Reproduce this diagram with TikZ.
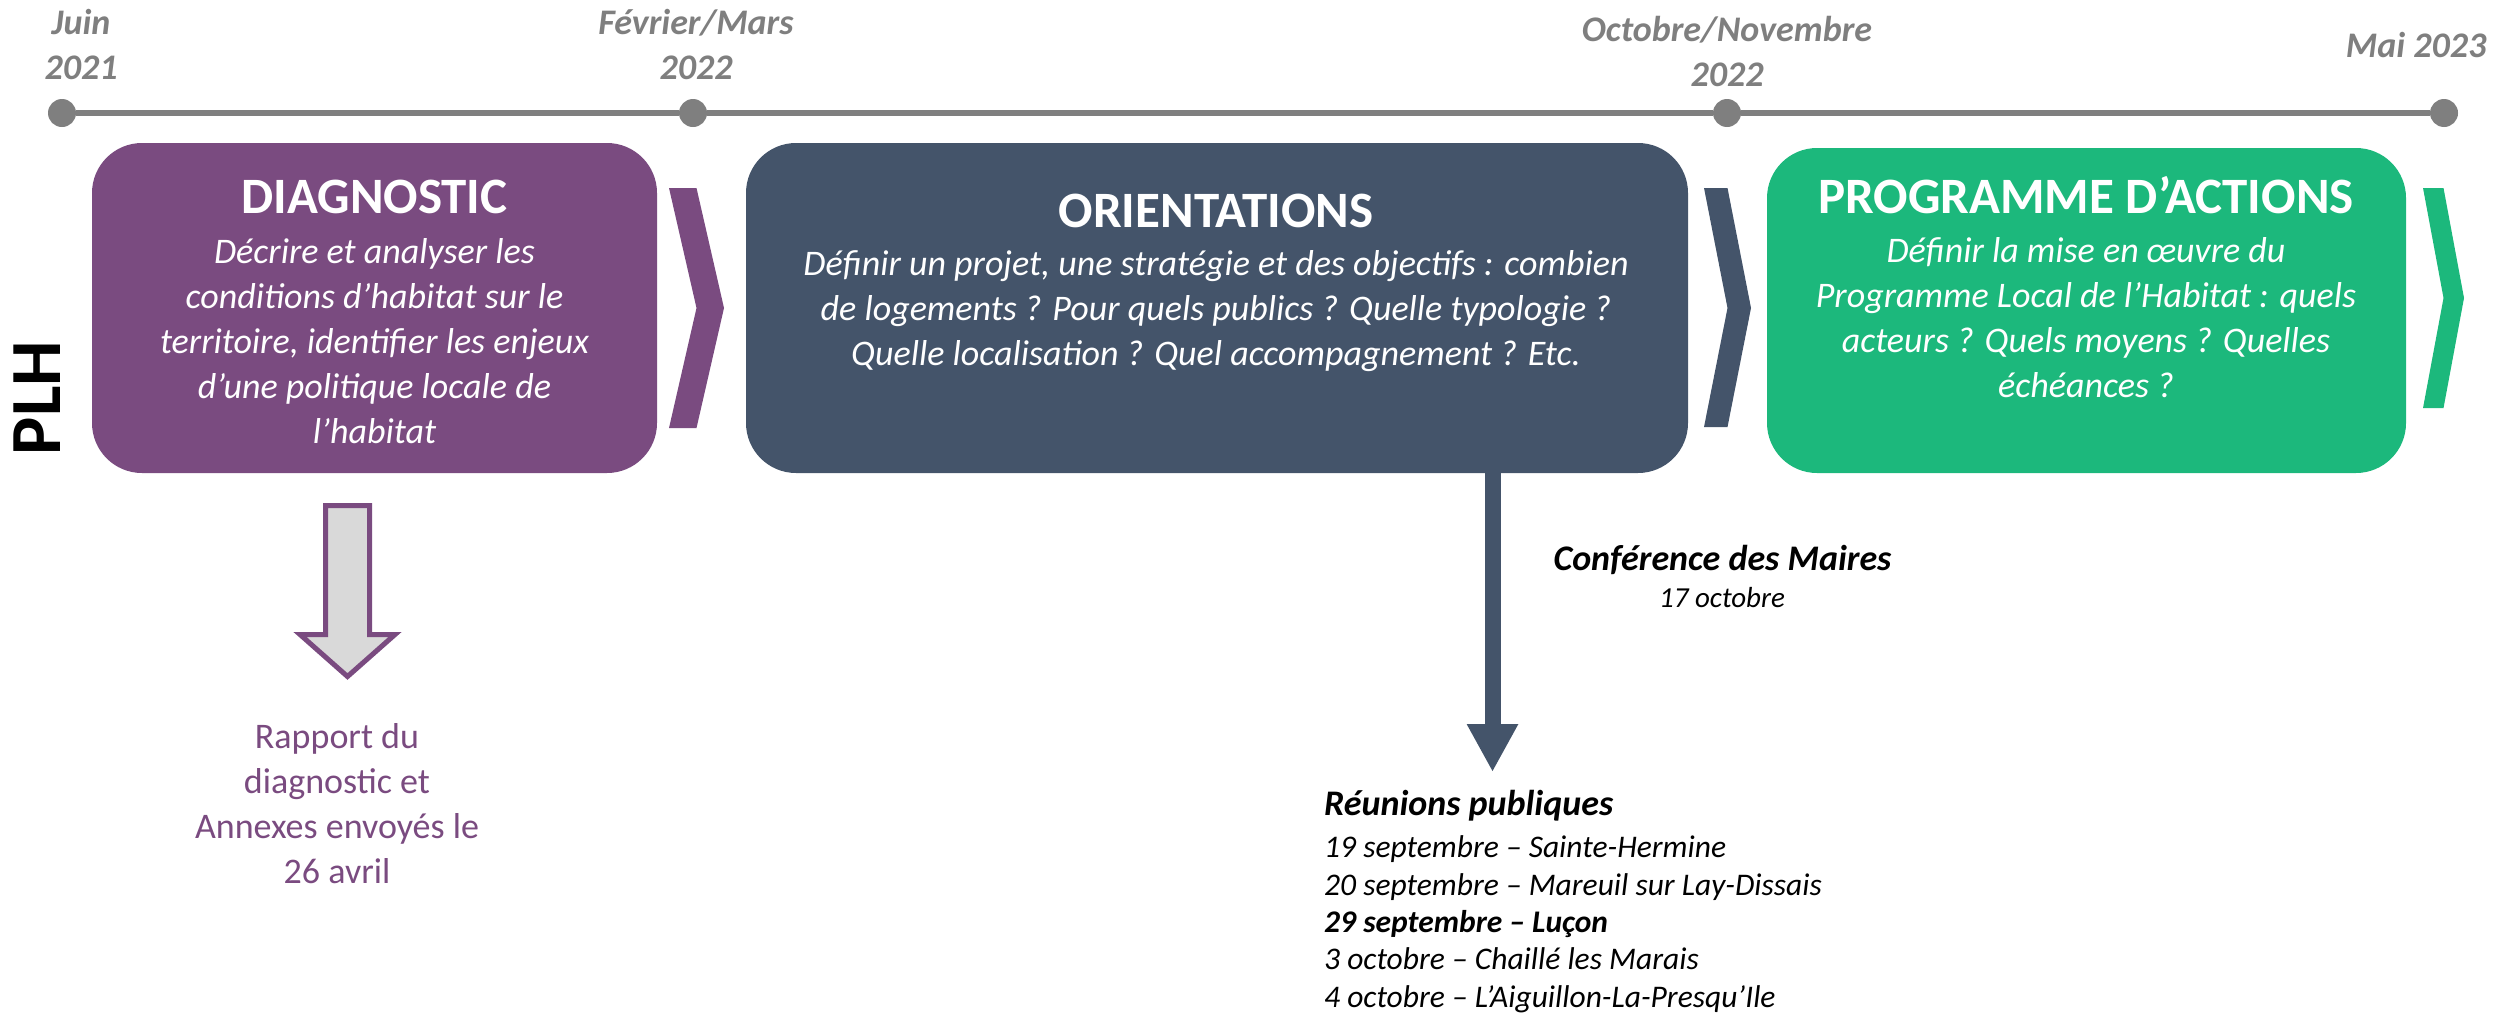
\documentclass[tikz,border=0pt]{standalone}
\usepackage{fontspec}
\setmainfont{Carlito}
\usetikzlibrary{arrows.meta,calc}
\definecolor{plhpurple}{HTML}{7A4B80}
\definecolor{plhblue}{HTML}{44546A}
\definecolor{plhgreen}{HTML}{1CB87C}
\definecolor{plhgray}{HTML}{7F7F7F}
\definecolor{plhlight}{HTML}{D9D9D9}
\newcommand\plhchevron[6]{% x0, w, top, bottom, mid, colour
  \fill[#6] (#1,#3) -- ({#1+#2},#3) -- ({#1+2*#2},#5) -- ({#1+#2},#4) -- (#1,#4) -- ({#1+#2},#5) -- cycle;}
\begin{document}
\begin{tikzpicture}[x=1pt,y=-1pt,
  phase/.style={rounded corners=50pt, inner sep=0pt, draw=none},
  ptitle/.style={anchor=base, text=white, inner sep=0pt, font=\fontsize{51}{60}\selectfont\bfseries},
  pbody/.style={anchor=base, text=white, align=center, inner sep=0pt, font=\fontsize{36}{45}\selectfont\itshape},
  pdate/.style={anchor=base, text=plhgray, align=center, inner sep=0pt, font=\fontsize{36}{45}\selectfont\bfseries\itshape},
  tdot/.style={circle, fill=plhgray, minimum size=28pt, inner sep=0pt},
  note/.style={inner sep=0pt, text=black}]
\useasboundingbox (0,0) rectangle (2494,1015);

% timeline (multi-line nodes are placed by the baseline of their last line)
\node[tdot] (t1) at (62,113) {};
\node[tdot] (t2) at (693,113) {};
\node[tdot] (t3) at (1727,113) {};
\node[tdot] (t4) at (2444,113) {};
\draw[plhgray, line width=6pt] (t1) -- (t2) -- (t3) -- (t4);

\node[pdate] (d1) at (81,79) {Juin\\2021};
\node[pdate] (d2) at (696,79) {Février/Mars\\2022};
\node[pdate] (d3) at (1727,86) {Octobre/Novembre\\2022};
\node[pdate] (d4) at (2416,57) {Mai 2023};

% PLH
\node[rotate=90, inner sep=0pt, font=\fontsize{72}{80}\selectfont\bfseries] (plh) at (37,398) {PLH};

% phases
\node[phase, fill=plhpurple, minimum width=565pt, minimum height=330pt] (diag) at (374.5,308) {};
\node[ptitle] (diagT) at (374.5,213) {DIAGNOSTIC};
\node[pbody] (diagB) at (374.5,443) {Décrire et analyser les\\conditions d’habitat sur le\\territoire, identifier les enjeux\\d’une politique locale de\\l’habitat};

\node[phase, fill=plhblue, minimum width=942pt, minimum height=330pt] (orient) at (1217,308) {};
\node[ptitle] (orientT) at (1216,227) {ORIENTATIONS};
\node[pbody] (orientB) at (1216,365) {Définir un projet, une stratégie et des objectifs : combien\\de logements ? Pour quels publics ? Quelle typologie ?\\Quelle localisation ? Quel accompagnement ? Etc.};

\node[phase, fill=plhgreen, minimum width=639pt, minimum height=325pt] (prog) at (2086.5,310.5) {};
\node[ptitle] (progT) at (2086,213) {PROGRAMME D’ACTIONS};
\node[pbody] (progB) at (2086,397) {Définir la mise en œuvre du\\Programme Local de l’Habitat : quels\\acteurs ? Quels moyens ? Quelles\\échéances ?};

% chevrons
\plhchevron{669}{27.5}{188}{428}{308}{plhpurple}
\plhchevron{1704}{23.5}{188}{427}{308}{plhblue}
\plhchevron{2423}{20.5}{188}{408}{298}{plhgreen}

% block arrow below DIAGNOSTIC
\draw[plhpurple, line width=5pt, fill=plhlight]
  (325.5,505.5) -- (369.5,505.5) -- (369.5,634.5) -- (395,634.5) -- (347.5,676.5)
  -- (300,634.5) -- (325.5,634.5) -- cycle;
\node[anchor=base, align=center, inner sep=0pt, text=plhpurple, font=\fontsize{36}{45}\selectfont] (rapport) at (337,883) {Rapport du\\diagnostic et\\Annexes envoyés le\\26 avril};

% arrow below ORIENTATIONS
\coordinate (confEnd) at (1492.5,772);
\coordinate (confStart) at ($(orient.south -| confEnd)+(0,-3)$);
\draw[plhblue, line width=16pt, -{Triangle[length=48pt,width=48pt]}] (confStart) -- (confEnd);

\node[note, anchor=base, font=\fontsize{36}{44}\selectfont\bfseries\itshape] (conf) at (1722.5,570) {Conférence des Maires};
\node[note, anchor=base, font=\fontsize{29}{35}\selectfont\itshape] (confdate) at (1722,607) {17 octobre};

\node[note, anchor=base west, font=\fontsize{36}{44}\selectfont\bfseries\itshape] (reu) at (1324,815) {Réunions publiques};
\node[note, anchor=base west, align=left, font=\fontsize{31.5}{37.3}\selectfont\itshape] (reulist) at (1324,1007) {19 septembre – Sainte-Hermine\\20 septembre – Mareuil sur Lay-Dissais\\\textbf{29 septembre – Luçon}\\3 octobre – Chaillé les Marais\\4 octobre – L’Aiguillon-La-Presqu’Ile};
\end{tikzpicture}
\end{document}
